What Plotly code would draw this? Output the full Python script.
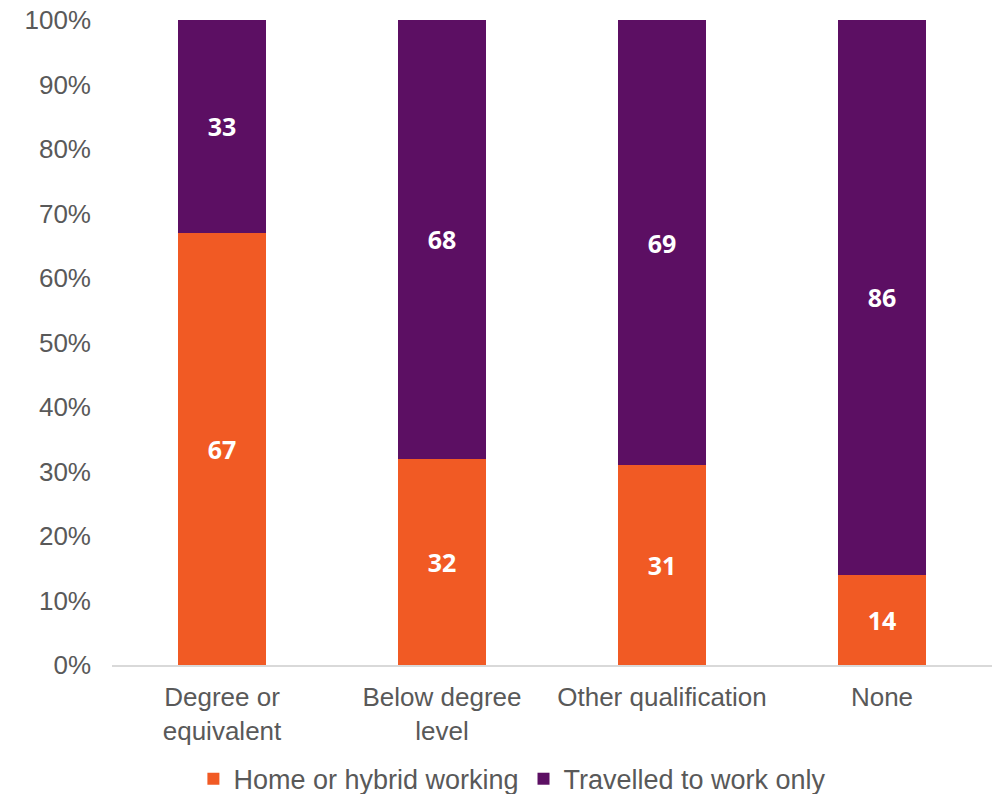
import plotly.graph_objects as go

categories = ["Degree or<br>equivalent", "Below degree<br>level", "Other qualification", "None"]
home_hybrid = [67, 32, 31, 14]
travelled_only = [33, 68, 69, 86]
y_tick_values = [0, 10, 20, 30, 40, 50, 60, 70, 80, 90, 100]
y_tick_labels = [f"{v}%" for v in y_tick_values]

ORANGE = "#F15A24"
PURPLE = "#5C0F63"
AXIS_TEXT = "#595959"

label_font = dict(family="Open Sans", size=25, color="white", weight="bold")

fig = go.Figure()
fig.add_trace(go.Bar(
    name="Home or hybrid working",
    x=categories, y=home_hybrid,
    marker=dict(color=ORANGE, line=dict(width=0)),
    text=home_hybrid, texttemplate="%{text}",
    textposition="inside", insidetextanchor="middle",
    textangle=0, constraintext="none",
    textfont=label_font,
))
fig.add_trace(go.Bar(
    name="Travelled to work only",
    x=categories, y=travelled_only,
    marker=dict(color=PURPLE, line=dict(width=0)),
    text=travelled_only, texttemplate="%{text}",
    textposition="inside", insidetextanchor="middle",
    textangle=0, constraintext="none",
    textfont=label_font,
))

fig.update_layout(
    barmode="stack",
    bargap=0.6,
    width=1000, height=794,
    margin=dict(l=112, r=8, t=20, b=129, autoexpand=False),
    paper_bgcolor="white", plot_bgcolor="white",
    font=dict(family="Liberation Sans, Arial, sans-serif", size=26, color=AXIS_TEXT),
    showlegend=True,
    legend=dict(
        orientation="h", x=0.455, xanchor="center", y=-0.215, yanchor="bottom",
        font=dict(size=27, color=AXIS_TEXT), itemwidth=30,
        traceorder="normal", tracegroupgap=0,
    ),
    xaxis=dict(
        showline=True, linecolor="#D9D9D9", linewidth=2,
        ticks="", showgrid=False, tickfont=dict(size=26, color=AXIS_TEXT),
        ticklabelstandoff=8, automargin=False,
    ),
    yaxis=dict(
        range=[0, 100], tickvals=y_tick_values, ticktext=y_tick_labels,
        showgrid=False, showline=False, zeroline=False, ticks="",
        tickfont=dict(size=26, color=AXIS_TEXT),
        ticklabelstandoff=20, automargin=False,
    ),
)

fig.write_html("out.html")
